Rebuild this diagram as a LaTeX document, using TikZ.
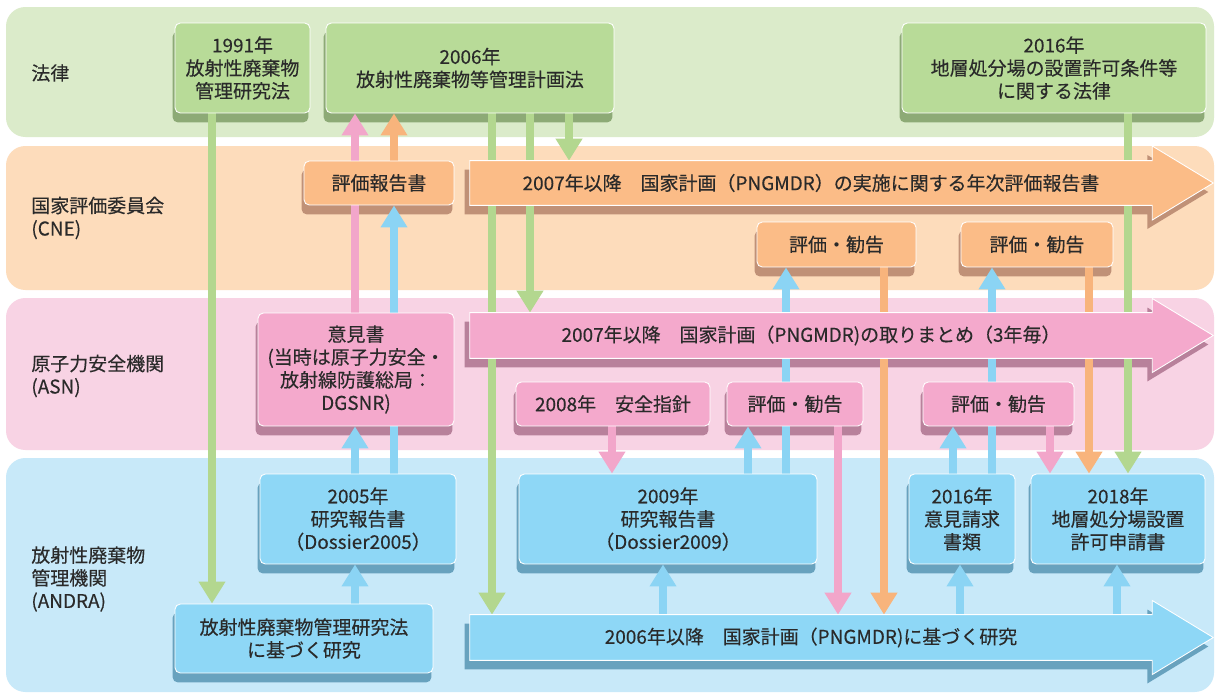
\documentclass[tikz,border=0pt]{standalone}
\usepackage{fontspec}
\setmainfont{Noto Sans CJK JP}[FakeBold=0.3]
\usetikzlibrary{arrows.meta}
\pgfdeclarelayer{bands}\pgfdeclarelayer{shad}\pgfdeclarelayer{conn}\pgfdeclarelayer{boxfill}
\pgfsetlayers{bands,shad,conn,boxfill,main}
\definecolor{txt}{HTML}{2A2A2A}
\definecolor{bandG}{HTML}{DBEBCA}
\definecolor{bandO}{HTML}{FDDCBB}
\definecolor{bandP}{HTML}{F8D3E4}
\definecolor{bandB}{HTML}{C8E9F9}
\definecolor{boxG}{HTML}{B8DB98}
\definecolor{boxO}{HTML}{FBBC87}
\definecolor{boxP}{HTML}{F4A9CC}
\definecolor{boxB}{HTML}{8ED7F6}
\definecolor{shG}{HTML}{8DAA76}
\definecolor{shO}{HTML}{C09177}
\definecolor{shP}{HTML}{B8819B}
\definecolor{shB}{HTML}{68A2BE}
\definecolor{lnG}{HTML}{B3D78F}
\definecolor{lnO}{HTML}{F8B47C}
\definecolor{lnP}{HTML}{F2A6CA}
\definecolor{lnB}{HTML}{8BD4F4}
% arrow outline: #1 node, #2 dx, #3 dy, #4 options
\newcommand\myarrowpath[4]{%
  \path[#4] ([shift={(#2,#3)}]#1.north west) -- ([shift={(#2,#3)}]#1.north east)
   -- ([shift={(#2,#3-37)}]#1.east) -- ([shift={(#2+61,#3)}]#1.east)
   -- ([shift={(#2,#3+37)}]#1.east) -- ([shift={(#2,#3)}]#1.south east)
   -- ([shift={(#2,#3)}]#1.south west) -- cycle;}
\begin{document}
\begin{tikzpicture}[x=0.02cm,y=-0.02cm,
  font=\fontsize{10.8pt}{13pt}\selectfont,
  box/.style={rounded corners=3pt, draw=white, line width=0.5pt, inner sep=0pt,
    align=center, text=txt, anchor=center},
  gbox/.style={box, fill=boxG},
  obox/.style={box, fill=boxO},
  pbox/.style={box, fill=boxP},
  bbox/.style={box, fill=boxB},
  arrowtext/.style={inner sep=0pt, text=txt, anchor=center, minimum width=13.64cm},
  lbl/.style={text=txt, inner sep=0pt, anchor=west, align=left},
  cline/.style={line width=4.5pt, -{Triangle[width=14.5pt,length=12.5pt]}},
  gline/.style={cline, draw=lnG, -{Triangle[width=14.5pt,length=12.5pt,fill=lnG]}},
  oline/.style={cline, draw=lnO, -{Triangle[width=14.5pt,length=12.5pt,fill=lnO]}},
  pline/.style={cline, draw=lnP, -{Triangle[width=14.5pt,length=12.5pt,fill=lnP]}},
  bline/.style={cline, draw=lnB, -{Triangle[width=14.5pt,length=12.5pt,fill=lnB]}},
]
\useasboundingbox (0,0) rectangle (1218,693);
% bands
\begin{pgfonlayer}{bands}
\fill[white] (0,0) rectangle (1218,693);
\fill[bandG, rounded corners=11pt] (6,7) rectangle (1214,137);
\fill[bandO, rounded corners=11pt] (6,146) rectangle (1214,290);
\fill[bandP, rounded corners=11pt] (6,298) rectangle (1214,450);
\fill[bandB, rounded corners=11pt] (6,458) rectangle (1214,692);
\end{pgfonlayer}
% band labels
\node[lbl] (labLaw) at (31,73) {法律};
\node[lbl] (labCNE) at (31,218) {国家評価委員会\\(CNE)};
\node[lbl] (labASN) at (31,376) {原子力安全機関\\(ASN)};
\node[lbl] (labAND) at (31,579) {放射性廃棄物\\管理機関\\(ANDRA)};
% law boxes
\node[gbox, minimum width=2.70cm, minimum height=1.80cm] (law1991) at (242.5,68) {1991年\\放射性廃棄物\\管理研究法};
\node[gbox, minimum width=5.76cm, minimum height=1.80cm] (law2006) at (470,68) {2006年\\放射性廃棄物等管理計画法};
\node[gbox, minimum width=6.08cm, minimum height=1.80cm] (law2016) at (1054,68) {2016年\\地層処分場の設置許可条件等\\に関する法律};
% CNE
\node[obox, minimum width=3.00cm, minimum height=0.88cm] (cneRep) at (379,183) {評価報告書};
\node[arrowtext, minimum height=0.88cm] (orArrow) at (811,183) {2007年以降　国家計画（PNGMDR）の実施に関する年次評価報告書};
\node[obox, minimum width=3.18cm, minimum height=0.90cm] (cneRec1) at (836.5,244.5) {評価・勧告};
\node[obox, minimum width=3.04cm, minimum height=0.90cm] (cneRec2) at (1037,244.5) {評価・勧告};
% ASN
\node[pbox, minimum width=3.92cm, minimum height=2.26cm] (asnOp) at (356,369.5) {意見書\\(当時は原子力安全・\\放射線防護総局：\\DGSNR)};
\node[arrowtext, minimum height=0.90cm] (pkArrow) at (811,335.5) {2007年以降　国家計画（PNGMDR)の取りまとめ（3年毎）};
\node[pbox, minimum width=3.88cm, minimum height=0.88cm] (asn2008) at (613,404) {2008年　安全指針};
\node[pbox, minimum width=2.72cm, minimum height=0.88cm] (asnRec1) at (795,404) {評価・勧告};
\node[pbox, minimum width=3.02cm, minimum height=0.88cm] (asnRec2) at (998.5,404) {評価・勧告};
% ANDRA
\node[bbox, minimum width=3.92cm, minimum height=1.80cm] (and2005) at (358,519) {2005年\\研究報告書\\（Dossier2005）};
\node[bbox, minimum width=5.96cm, minimum height=1.80cm] (and2009) at (668,519) {2009年\\研究報告書\\（Dossier2009）};
\node[bbox, minimum width=2.12cm, minimum height=1.80cm] (and2016) at (962,519) {2016年\\意見請求\\書類};
\node[bbox, minimum width=3.48cm, minimum height=1.80cm] (and2018) at (1118,519) {2018年\\地層処分場設置\\許可申請書};
\node[bbox, minimum width=5.16cm, minimum height=1.38cm] (andLaw) at (304,638.5) {放射性廃棄物管理研究法\\に基づく研究};
\node[arrowtext, minimum height=0.90cm] (blArrow) at (811,637.5) {2006年以降　国家計画（PNGMDR)に基づく研究};
% big arrow bodies
\begin{pgfonlayer}{boxfill}
\myarrowpath{orArrow}{0}{0}{fill=boxO, draw=white, line width=0.5pt}
\myarrowpath{pkArrow}{0}{0}{fill=boxP, draw=white, line width=0.5pt}
\myarrowpath{blArrow}{0}{0}{fill=boxB, draw=white, line width=0.5pt}
\end{pgfonlayer}
% shadows
\begin{pgfonlayer}{shad}
\foreach \n/\c in {law1991/shG, law2006/shG, law2016/shG, cneRep/shO, cneRec1/shO, cneRec2/shO,
  asnOp/shP, asn2008/shP, asnRec1/shP, asnRec2/shP, and2005/shB, and2009/shB, and2016/shB,
  and2018/shB, andLaw/shB}
  \fill[\c, rounded corners=3pt] ([shift={(-2,9)}]\n.north west) rectangle ([shift={(-2,9)}]\n.south east);
\myarrowpath{orArrow}{-5}{9}{fill=shO}
\myarrowpath{pkArrow}{-5}{9}{fill=shP}
\myarrowpath{blArrow}{-5}{9}{fill=shB}
\end{pgfonlayer}
% x positions of connectors
\coordinate (xgA) at (212,0);
\coordinate (xgB) at (492,0);
\coordinate (xgC) at (530,0);
\coordinate (xgD) at (569,0);
\coordinate (xgE) at (1128,0);
\coordinate (xL) at (355,0);
\coordinate (xR) at (394,0);
\coordinate (xpB) at (612,0);
\coordinate (xbD) at (748,0);
\coordinate (xbE) at (786,0);
\coordinate (xpC) at (838,0);
\coordinate (xoB) at (884,0);
\coordinate (xbF) at (663,0);
\coordinate (xbG) at (960,0);
\coordinate (xbH) at (1117,0);
\coordinate (xbI) at (953,0);
\coordinate (xbJ) at (992,0);
\coordinate (xpD) at (1050,0);
\coordinate (xoC) at (1089,0);
% connectors
\begin{pgfonlayer}{conn}
\draw[gline] (law1991.south -| xgA) -- (andLaw.north -| xgA);
\draw[gline] (law2006.south -| xgB) -- (blArrow.north -| xgB);
\draw[gline] (law2006.south -| xgC) -- (pkArrow.north -| xgC);
\draw[gline] (law2006.south -| xgD) -- (orArrow.north -| xgD);
\draw[gline] (law2016.south -| xgE) -- (and2018.north -| xgE);
\draw[pline] (asnOp.north -| xL) -- (law2006.south -| xL);
\draw[oline] (cneRep.north -| xR) -- (law2006.south -| xR);
\draw[bline] (and2005.north -| xR) -- (cneRep.south -| xR);
\draw[bline] (and2005.north -| xL) -- (asnOp.south -| xL);
\draw[bline] (andLaw.north -| xL) -- (and2005.south -| xL);
\draw[pline] (asn2008.south -| xpB) -- (and2009.north -| xpB);
\draw[bline] (and2009.north -| xbD) -- (asnRec1.south -| xbD);
\draw[bline] (and2009.north -| xbE) -- (cneRec1.south -| xbE);
\draw[pline] (asnRec1.south -| xpC) -- (blArrow.north -| xpC);
\draw[oline] (cneRec1.south -| xoB) -- (blArrow.north -| xoB);
\draw[bline] (blArrow.north -| xbF) -- (and2009.south -| xbF);
\draw[bline] (blArrow.north -| xbG) -- (and2016.south -| xbG);
\draw[bline] (blArrow.north -| xbH) -- (and2018.south -| xbH);
\draw[bline] (and2016.north -| xbI) -- (asnRec2.south -| xbI);
\draw[bline] (and2016.north -| xbJ) -- (cneRec2.south -| xbJ);
\draw[pline] (asnRec2.south -| xpD) -- (and2018.north -| xpD);
\draw[oline] (cneRec2.south -| xoC) -- (and2018.north -| xoC);
\end{pgfonlayer}
\end{tikzpicture}
\end{document}
